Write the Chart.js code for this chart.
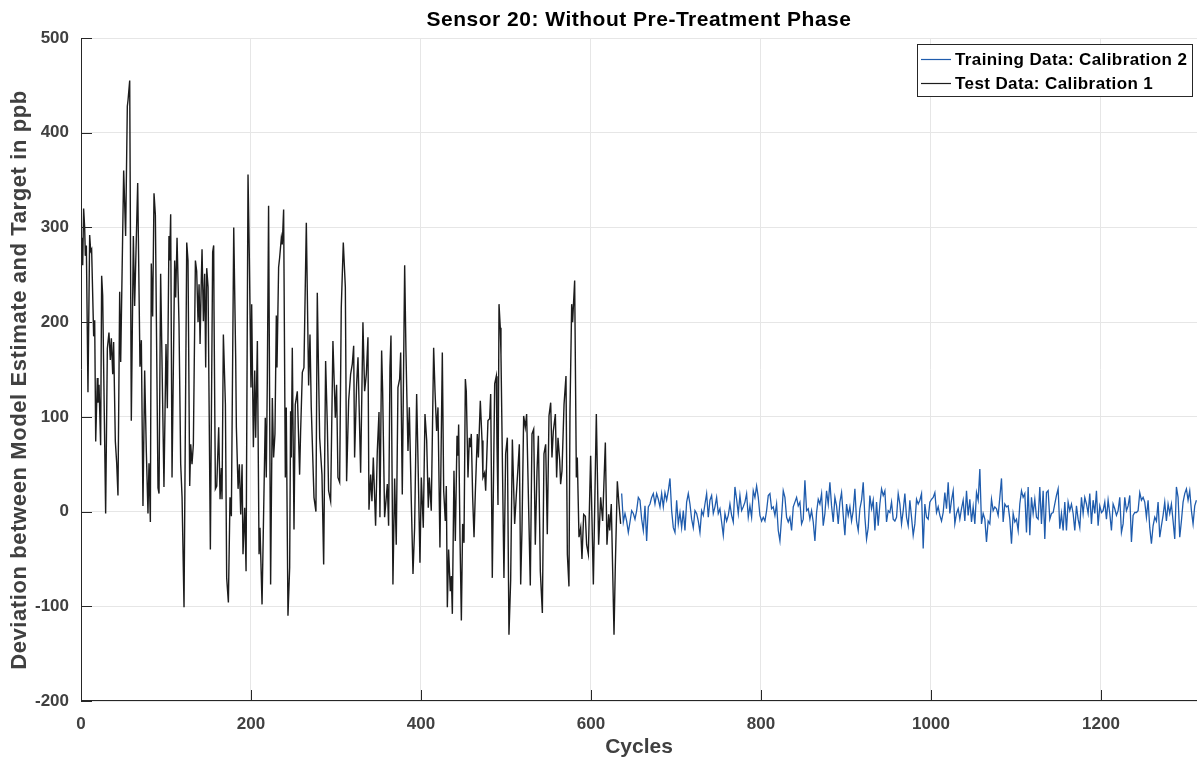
<!DOCTYPE html>
<html><head><meta charset="utf-8">
<script src="https://cdn.jsdelivr.net/npm/chart.js@4.4.1/dist/chart.umd.min.js"></script>
<style>html,body{margin:0;padding:0;background:#fff;}#wrap{width:1198px;height:760px;position:relative;}</style>
</head><body><div id="wrap"><canvas id="c" width="1198" height="760"></canvas></div>
<script>
const chartTitle = 'Sensor 20: Without Pre-Treatment Phase';
const xAxisTitle = 'Cycles';
const yAxisTitle = 'Deviation between Model Estimate and Target in ppb';
const seriesNames = ['Training Data: Calibration 2', 'Test Data: Calibration 1'];
const xTickValues = [0, 200, 400, 600, 800, 1000, 1200];
const yTickValues = [-200, -100, 0, 100, 200, 300, 400, 500];

const testCycles = [
0,1.2,2,3.1,4.3,5.1,6.3,8.2,10.2,11.4, 12.5,14.9,16.1,17.3,19.2,20,21.2,23.1,24.3,25.5,
29,31,32.9,34.5,35.7,37.3,38.4,40.4,42,43.5, 45.5,46.7,50.2,52.5,54.5,55.3,57.3,59.2,61.6,63.1,
66.7,69.4,71,72.9,74.9,76.9,78.8,80,81.6,82.7, 84.3,85.9,87.5,90.6,91.8,93.7,97.6,100,101.6,103.5,
104.3,105.5,107.1,
110.2,111.4,113,115.3,117.3,118.9,121.2,124.4,125.9,127.9, 129.1,130.6,132.2,134.6,136.1,137.7,138.9,140.1,141.6,142.4,
144,145.5,146.7,147.9,149.5,152.2,154.9,156.1,156.5,158.1, 159.7,162,163.6,165.1,165.9,167.5,169.9,171.4,173.4,175.3,
176.9,179.7,182,182.8,184.8,186.3,187.9,189.5,190.6,192.6, 194.2,196.5,198.1,200,200.8,202.8,204.4,205.5,207.5,209.5,
210.6,213,
216.8,218,219.2,220.7,223.1,225.1,226.6,228.2,229.8,230.6, 232.5,233.7,235.7,236.8,238.4,240.4,241.5,243.5,245.5,246.6,
247.4,248.6,250.6,252.1,254.5,257.2,258.4,260.4,262.3,265.1, 267.8,269.4,270.9,274.1,276.4,278,279.2,280.8,283.5,285.5,
287.8,289.8,291.3,293.7,296.4,299.2,300.7,302.3,304.3,306.2, 308.6,311,312.5,314.9,317.2,319.2,
320.8,321.9,324.3,325.9,329,331.7,333.7,335.7,337.6,338.8, 340.8,342.3,343.9,346.6,348.6,350.6,351.7,353.7,354.9,357.2,
358.8,360.4,361.9,363.5,364.7,367,369,370.9,372.9,374.9, 376.1,378,380.8,382.3,384.7,386.3,388.6,390.6,392.5,394.9,
396.5,398.8,400.4,402.7,404.7,406.7,408.6,409.8,412.1,414.9, 416.5,418.4,420,422.3,425.1,
426.7,428.6,429.8,431,432.5,434.5,435.7,436.9,438.8,440.4, 442.4,443.5,444.3,445.9,447.5,449,450.6,452.2,453.3,455.3,
456.9,458,459.2,460.8,462.4,463.9,466.3,467.5,469.8,471.8, 472.9,474.9,476.1,478.8,480.8,482,483.9,486.7,488.6,489.4,
490.6,491.8,493.3,494.1,497.6,499.6,501.6,503.5,505.5,507.5, 510.2,512.2,514.1,515.7,517.3,518.8,520.8,522.7,524.3,525.9,
528.6,530.6,
532.6,534.5,536.5,538.1,540.4,542.8,544.7,546.7,548.6,550.6, 552.6,554.1,555.7,558.1,559.6,561.2,563.2,564.3,565.9,568.3,
570.6,572.2,574.1,575.3,577.3,578.4,580.8,582.8,583.9,585.9, 587.9,589.4,591.4,593.4,594.9,596.9,599.6,602.8,606.3,609,
611.4,613.7,616.9,618.8,620.8,622,623.9,627.1,628.6,631, 632.9,634.9
];
const testValues = [
280,289,260,320,300,270,281,126,292,275, 277,185,202,74,141,115,134,70,249,228,
-2,172,189,160,183,145,179,74,51,17, 232,158,360,291,428,434,455,96,291,217,
347,153,181,6,149,62,-2,51,-11,262, 206,336,313,25,19,251,26,177,109,291,
265,314,36,
265,226,289,198,50,15,-101,284,265,27, 71,50,71,265,254,200,240,177,247,277,
201,251,152,257,237,-40,274,281,212,24, 27,89,13,46,13,187,113,-70,-96,15,
-5,300,161,89,24,50,-3,50,-45,4, -63,356,265,131,219,68,149,78,180,-45,
-17,-98,
99,36,138,323,-77,120,57,82,207,152, 258,268,289,282,319,36,110,-110,-59,106,
57,173,-19,113,127,39,85,147,152,305, 133,187,110,15,0,231,163,78,39,-56,
159,92,22,11,180,99,134,36,31,215, 284,237,32,117,145,156,
175,57,135,163,41,200,127,145,184,2, 39,11,57,-15,64,105,-6,170,127,-6,
11,29,-15,152,186,-77,35,-35,131,140, 168,18,260,170,64,110,11,-66,-17,124,
54,-54,36,-17,103,75,4,36,1,173, 127,85,110,-38,168,
22,-10,27,-101,-40,-84,-68,-108,43,-31, 80,59,92,-27,-115,-13,-33,140,127,36,
78,68,82,15,-27,19,82,57,117,75, 36,41,22,96,98,124,-70,135,143,71,
7,219,194,166,-70,61,78,-130,-73,76, -13,18,46,71,-77,-20,101,89,103,36,
-78,82,
87,-35,43,80,-63,-107,61,71,-24,101, 115,57,85,103,36,78,54,29,43,113,
143,-45,-79,106,219,200,244,36,57,-27, -17,-50,-3,-5,-35,-45,59,-77,103,-35,
15,-10,73,-35,-3,-20,8,-130,-59,32, 8,-13
];

const trainStartCycle = 636.1;
const trainCycleStep = 1.96;
const trainValues = [
19,-11,-2,-10,-22,-11,1,-2,-8,1, 15,12,-8,-20,6,-31,5,8,15,19,
8,19,13,5,19,5,20,12,22,35, 1,-17,-22,12,-13,-1,-17,1,-20,10,
19,8,-8,-17,1,-2,-10,-22,1,-4, 8,19,-6,12,17,-2,5,15,-2,3,
-11,-25,-2,-10,-4,8,-4,-11,26,13, -2,17,1,5,10,19,-6,6,-6,22,
15,27,15,-4,-10,-6,-10,1,17,19, 3,5,-4,8,-20,-31,-6,22,15,-6,
-11,-6,-20,5,10,15,6,10,-13,-8, 33,1,3,
-8,1,-11,-31,-1,13,8,19,-15,-2, 22,8,31,6,-11,15,6,-13,10,20,
-4,-25,8,-4,5,-10,1,24,-10,-20, 3,12,31,-6,-29,-17,17,3,12,-20,
10,-15,8,24,17,22,-11,1,-1,10, -8,-10,-6,19,8,-13,1,19,-6,-15,
12,-6,-25,-13,13,8,12,19,-39,8, -6,-8,10,13,15,20,-1,5,-4,-10,
-1,20,3,31,-2,12,22,-13,-2,3, -8,3,12,-10,22,-4,13,-11,5,-13,
20,12,45,-13,-2,-8,-32,-10,-13,13, 1,5,3,-4,
15,35,-11,8,5,6,-8,-34,-2,-11, -8,-20,8,22,15,19,-22,26,-25,15,
-2,13,-6,-8,26,-13,22,-29,20,22, -8,-2,-1,8,17,24,-18,-2,-20,10,
-20,10,1,8,-2,-20,6,-8,-17,15, -2,15,8,-2,19,-13,12,-2,22,-15,
6,-1,1,10,-8,12,-2,-20,8,3, -4,1,15,-22,-13,15,1,6,17,-32,
-4,-1,-1,1,20,12,15,10,-6,12, -17,-34,-15,-6,-10,10,-27,-15,-4,10,
-10,8,-2,8,-10,-29,26,15,-27,-10, 10,19,24,12,22,1,-13,6,12
];

const blueColor = '#1f5cad';
const blackColor = '#1c1c1c';
const axisColor = '#262626';
const labelColor = '#404040';
const fontFamily = "'Liberation Sans', Arial, Helvetica, sans-serif";

const overlay = {
  id: 'overlay',
  afterDraw(chart) {
    const ctx = chart.ctx;
    const a = chart.chartArea;
    const xs = chart.scales.x, ys = chart.scales.y;
    ctx.save();
    ctx.strokeStyle = axisColor;
    ctx.lineWidth = 1;
    ctx.beginPath();
    ctx.moveTo(a.left + 0.5, a.top);
    ctx.lineTo(a.left + 0.5, a.bottom);
    ctx.moveTo(a.left, a.bottom - 0.5);
    ctx.lineTo(a.right, a.bottom - 0.5);
    yTickValues.forEach(v => {
      const p = Math.round(ys.getPixelForValue(v)) + 0.5;
      ctx.moveTo(a.left, p); ctx.lineTo(a.left + 11, p);
    });
    xTickValues.forEach(v => {
      const p = Math.round(xs.getPixelForValue(v)) + 0.5;
      ctx.moveTo(p, a.bottom); ctx.lineTo(p, a.bottom - 11);
    });
    ctx.stroke();

    ctx.textAlign = 'center';
    ctx.textBaseline = 'middle';
    // title
    ctx.fillStyle = '#000';
    ctx.font = 'bold 21px ' + fontFamily;
    ctx.letterSpacing = '0.5px';
    ctx.fillText(chartTitle, (a.left + a.right) / 2, 20);
    // x title
    ctx.fillStyle = labelColor;
    ctx.font = 'bold 21px ' + fontFamily;
    ctx.letterSpacing = '0px';
    ctx.fillText(xAxisTitle, (a.left + a.right) / 2, 747);
    // y title
    ctx.save();
    ctx.translate(20, 380);
    ctx.rotate(-Math.PI / 2);
    ctx.font = 'bold 22px ' + fontFamily;
    ctx.letterSpacing = '0.6px';
    ctx.fillText(yAxisTitle, 0, 0);
    ctx.restore();

    // legend
    const lx = 917, ly = 44, lw = 276, lh = 53;
    ctx.fillStyle = '#fff';
    ctx.fillRect(lx, ly, lw, lh);
    ctx.strokeStyle = '#262626';
    ctx.lineWidth = 1;
    ctx.strokeRect(lx + 0.5, ly + 0.5, lw - 1, lh - 1);
    const rows = [[seriesNames[0], blueColor, 59], [seriesNames[1], blackColor, 83]];
    ctx.font = 'bold 17px ' + fontFamily;
    ctx.letterSpacing = '0.4px';
    ctx.textAlign = 'left';
    rows.forEach(([t, c, y]) => {
      ctx.strokeStyle = c;
      ctx.lineWidth = 1.2;
      ctx.beginPath();
      ctx.moveTo(921, y + 0.5); ctx.lineTo(951, y + 0.5);
      ctx.stroke();
      ctx.fillStyle = '#000';
      ctx.fillText(t, 955, y + 1);
    });
    ctx.restore();
  }
};

new Chart(document.getElementById('c'), {
  type: 'line',
  data: {
    datasets: [
      {
        label: seriesNames[0],
        data: trainValues.map((v, i) => ({ x: trainStartCycle + i * trainCycleStep, y: v })),
        borderColor: blueColor, borderWidth: 1.3, pointRadius: 0, tension: 0, fill: false
      },
      {
        label: seriesNames[1],
        data: testCycles.map((c, i) => ({ x: c, y: testValues[i] })),
        borderColor: blackColor, borderWidth: 1.4, pointRadius: 0, tension: 0, fill: false
      }
    ]
  },
  options: {
    responsive: false,
    animation: false,
    devicePixelRatio: 1,
    layout: { padding: { top: 38, right: 1, left: 0, bottom: 0 } },
    plugins: { legend: { display: false }, title: { display: false }, tooltip: { enabled: false } },
    scales: {
      x: {
        type: 'linear', min: 0, max: 1313,
        afterBuildTicks: s => { s.ticks = xTickValues.map(v => ({ value: v })); },
        afterFit: s => { s.height = 59; },
        grid: { color: '#e6e6e6', drawTicks: false },
        border: { display: false },
        ticks: { color: labelColor, padding: 13, maxRotation: 0, callback: v => String(v),
                 font: { family: fontFamily, size: 17, weight: 'bold' } }
      },
      y: {
        type: 'linear', min: -200, max: 500,
        afterBuildTicks: s => { s.ticks = yTickValues.map(v => ({ value: v })); },
        afterFit: s => { s.width = 81; },
        grid: { color: '#e6e6e6', drawTicks: false },
        border: { display: false },
        ticks: { color: labelColor, padding: 12, callback: v => String(v),
                 font: { family: fontFamily, size: 17, weight: 'bold' } }
      }
    }
  },
  plugins: [overlay]
});
</script>
</body></html>
